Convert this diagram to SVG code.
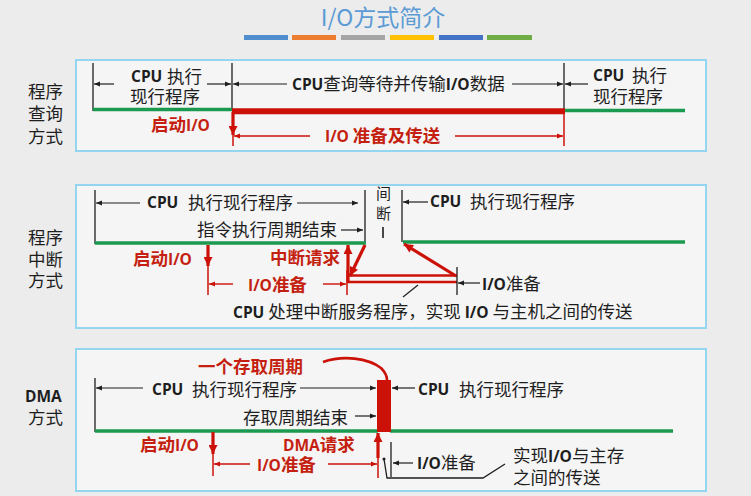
<svg xmlns="http://www.w3.org/2000/svg" width="751" height="496" viewBox="0 0 751 496">
<style>
.t{font-family:"Noto Sans CJK SC","Noto Sans CJK TC",sans-serif;font-size:17.5px;fill:#1e1e1e}
.e{font-family:"Open Sans","Liberation Sans",sans-serif;font-weight:bold;font-size:15.5px}
.r{fill:#c41f10;font-weight:bold}
.panel{fill:#f5f5f5;stroke:#94d5f0;stroke-width:2}
.k{stroke:#1e1e1e;stroke-width:1.3;fill:none}
.ka{stroke:#1e1e1e;stroke-width:1.2;fill:none;marker-end:url(#ab)}
.g{stroke:#1b9a4f;stroke-width:3.5;fill:none}
.rt{stroke:#cc1208;stroke-width:1.5;fill:none}
.ra{stroke:#cc1208;stroke-width:1.4;fill:none;marker-end:url(#ar)}
.rT{stroke:#cc1208;stroke-width:3.2;fill:none;marker-end:url(#arT)}
.rb{stroke:#cc1208;stroke-width:6;fill:none}
.rd{stroke:#cc1208;stroke-width:2.6;fill:none}
</style>
<defs>
<marker id="ab" viewBox="0 0 10 10" refX="10" refY="5" markerWidth="8" markerHeight="6" orient="auto" markerUnits="userSpaceOnUse"><path d="M0,1 L10,5 L0,9 z" fill="#1e1e1e"/></marker>
<marker id="ar" viewBox="0 0 10 10" refX="10" refY="5" markerWidth="8" markerHeight="6" orient="auto" markerUnits="userSpaceOnUse"><path d="M0,1 L10,5 L0,9 z" fill="#cc1208"/></marker>
<marker id="arT" viewBox="0 0 10 10" refX="10" refY="5" markerWidth="10" markerHeight="9" orient="auto" markerUnits="userSpaceOnUse"><path d="M0,0 L10,5 L0,10 z" fill="#cc1208"/></marker>
</defs>
<rect x="0" y="0" width="751" height="496" fill="#ececec"/>

<g id="title">
<text x="383" y="26" text-anchor="middle" style="font-family:'Noto Sans CJK SC',sans-serif;font-size:23px;fill:#5b9bd5">I/O方式简介</text>
<rect x="244" y="35" width="44" height="5" fill="#4f8fd0"/>
<rect x="292" y="35" width="44" height="5" fill="#ed7d31"/>
<rect x="341" y="35" width="44" height="5" fill="#a5a5a5"/>
<rect x="390" y="35" width="44" height="5" fill="#ffc000"/>
<rect x="439" y="35" width="44" height="5" fill="#4472c4"/>
<rect x="487" y="35" width="45" height="5" fill="#70ad47"/>
</g>

<!-- Panel 1: 程序查询方式 -->
<g id="panel-query">
<rect class="panel" x="76" y="60" width="630" height="91"/>
<text class="t" x="28" y="98">程序</text>
<text class="t" x="28" y="120">查询</text>
<text class="t" x="28" y="143">方式</text>
<text class="t e" x="131" y="82">CPU</text>
<text class="t" x="167" y="83">执行</text>
<text class="t" x="130" y="103">现行程序</text>
<text class="t" x="292" y="90"><tspan class="e">CPU</tspan>查询等待并传输<tspan class="e">I/O</tspan>数据</text>
<text class="t e" x="593" y="81">CPU</text>
<text class="t" x="632" y="82">执行</text>
<text class="t" x="593" y="103">现行程序</text>
<text class="t r" x="151" y="131">启动<tspan class="e">I/O</tspan></text>
<text class="t r" x="325" y="142"><tspan class="e">I/O</tspan> 准备及传送</text>
</g>

<!-- Panel 2: 程序中断方式 -->
<g id="panel-interrupt">
<rect class="panel" x="76" y="185" width="630" height="143"/>
<text class="t" x="28" y="244">程序</text>
<text class="t" x="28" y="266">中断</text>
<text class="t" x="28" y="287">方式</text>
<text class="t e" x="147" y="208">CPU</text>
<text class="t" x="188" y="209">执行现行程序</text>
<text class="t" x="197" y="236">指令执行周期结束</text>
<text class="t" x="376" y="199" style="font-size:15px">间</text>
<text class="t" x="376" y="219" style="font-size:15px">断</text>
<text class="t e" x="430" y="207">CPU</text>
<text class="t" x="470" y="208">执行现行程序</text>
<text class="t r" x="133" y="265">启动<tspan class="e">I/O</tspan></text>
<text class="t r" x="248" y="291"><tspan class="e">I/O</tspan>准备</text>
<text class="t r" x="270" y="264">中断请求</text>
<text class="t" x="482" y="290"><tspan class="e">I/O</tspan>准备</text>
<text class="t" x="233" y="318"><tspan class="e">CPU</tspan> 处理中断服务程序，实现 <tspan class="e">I/O</tspan> 与主机之间的传送</text>
</g>

<!-- Panel 3: DMA方式 -->
<g id="panel-dma">
<rect class="panel" x="76" y="349" width="630" height="142"/>
<text class="t e" x="25" y="402">DMA</text>
<text class="t" x="28" y="424">方式</text>
<text class="t r" x="198" y="373">一个存取周期</text>
<text class="t e" x="152" y="395">CPU</text>
<text class="t" x="192" y="396">执行现行程序</text>
<text class="t" x="243" y="424">存取周期结束</text>
<text class="t e" x="418" y="395">CPU</text>
<text class="t" x="459" y="396">执行现行程序</text>
<text class="t r" x="140" y="451">启动<tspan class="e">I/O</tspan></text>
<text class="t r" x="257" y="471"><tspan class="e">I/O</tspan>准备</text>
<text class="t r" x="283" y="451"><tspan class="e">DMA</tspan>请求</text>
<text class="t" x="417" y="469"><tspan class="e">I/O</tspan>准备</text>
<text class="t" x="513" y="462">实现<tspan class="e">I/O</tspan>与主存</text>
<text class="t" x="513" y="484">之间的传送</text>
</g>

<g id="connectors">
<!-- panel 1 -->
<line class="k" x1="93" y1="63" x2="93" y2="111"/>
<line class="k" x1="232" y1="63" x2="232" y2="110"/>
<line class="k" x1="564" y1="63" x2="564" y2="110"/>
<line class="g" x1="93" y1="109.5" x2="232" y2="109.5"/>
<line class="rb" x1="232" y1="111.3" x2="565" y2="111.3"/>
<line class="g" x1="565" y1="110.5" x2="685" y2="110.5"/>
<line class="ka" x1="114" y1="84" x2="94" y2="84"/>
<line class="ka" x1="207" y1="84" x2="231" y2="84"/>
<line class="ka" x1="287" y1="84" x2="233" y2="84"/>
<line class="ka" x1="512" y1="84" x2="563" y2="84"/>
<line class="ka" x1="588" y1="84" x2="565" y2="84"/>
<line class="rT" x1="233" y1="112" x2="233" y2="135"/>
<line class="rt" x1="233" y1="134" x2="233" y2="146"/>
<line class="rt" x1="564" y1="113" x2="564" y2="146"/>
<line class="ra" x1="310" y1="136" x2="234" y2="136"/>
<line class="ra" x1="455" y1="136" x2="563" y2="136"/>

<!-- panel 2 -->
<line class="k" x1="95" y1="190" x2="95" y2="244"/>
<line class="k" x1="365" y1="190" x2="365" y2="243"/>
<line class="k" x1="402" y1="190" x2="402" y2="242"/>
<line class="g" x1="95" y1="243" x2="366" y2="243"/>
<line class="g" x1="403" y1="242" x2="685" y2="242"/>
<line class="k" x1="383" y1="227" x2="383" y2="238" style="stroke-width:1.6"/>
<line class="ka" x1="140" y1="203" x2="96" y2="203"/>
<line class="ka" x1="297" y1="203" x2="358" y2="203"/>
<line class="ka" x1="341" y1="230" x2="363" y2="230"/>
<line class="ka" x1="428" y1="202" x2="403" y2="202"/>
<line class="rT" x1="208" y1="245" x2="208" y2="266"/>
<line class="rt" x1="208" y1="265" x2="208" y2="295"/>
<line class="ra" x1="233" y1="284" x2="209" y2="284"/>
<line class="ra" x1="323" y1="284" x2="346" y2="284"/>
<line class="rt" x1="347" y1="270" x2="347" y2="295"/>
<line class="rT" x1="348" y1="283" x2="348" y2="245"/>
<line class="rT" x1="365" y1="245" x2="350" y2="276"/>
<line class="rd" x1="348" y1="275.5" x2="457" y2="275.5"/>
<line class="rd" x1="348" y1="282" x2="457" y2="282"/>
<line class="k" x1="457" y1="267" x2="457" y2="295"/>
<line class="rT" x1="456" y1="276" x2="404" y2="244"/>
<line class="ka" x1="480" y1="283" x2="458" y2="283"/>
<line class="k" x1="403" y1="297" x2="418" y2="285"/>

<!-- panel 3 -->
<path class="rd" d="M323,362 C343,355 368,358 381,368 C386,373 387,377 387,380"/>
<line class="k" x1="95" y1="378" x2="95" y2="432"/>
<line class="g" x1="95" y1="431" x2="378" y2="431"/>
<line class="g" x1="390" y1="431" x2="673" y2="431"/>
<rect x="377" y="380" width="14" height="52" fill="#cc1208"/>
<line class="ka" x1="143" y1="388" x2="96" y2="388"/>
<line class="ka" x1="300" y1="388" x2="376" y2="388"/>
<line class="ka" x1="355" y1="416" x2="376" y2="416"/>
<line class="ka" x1="415" y1="388" x2="392" y2="388"/>
<line class="rT" x1="213" y1="432" x2="213" y2="454"/>
<line class="rt" x1="213" y1="453" x2="213" y2="476"/>
<line class="ra" x1="250" y1="464" x2="214" y2="464"/>
<line class="ra" x1="328" y1="464" x2="377" y2="464"/>
<line class="rT" x1="378" y1="458" x2="378" y2="433"/>
<line class="rt" x1="378" y1="457" x2="378" y2="478"/>
<line class="k" x1="391" y1="442" x2="391" y2="477"/>
<line class="ka" x1="413" y1="463" x2="393" y2="463"/>
<path class="k" d="M384,459 L387,478 L483,478 L505,464"/>
<circle cx="384" cy="459" r="1.5" fill="#1e1e1e"/>
</g>
</svg>
